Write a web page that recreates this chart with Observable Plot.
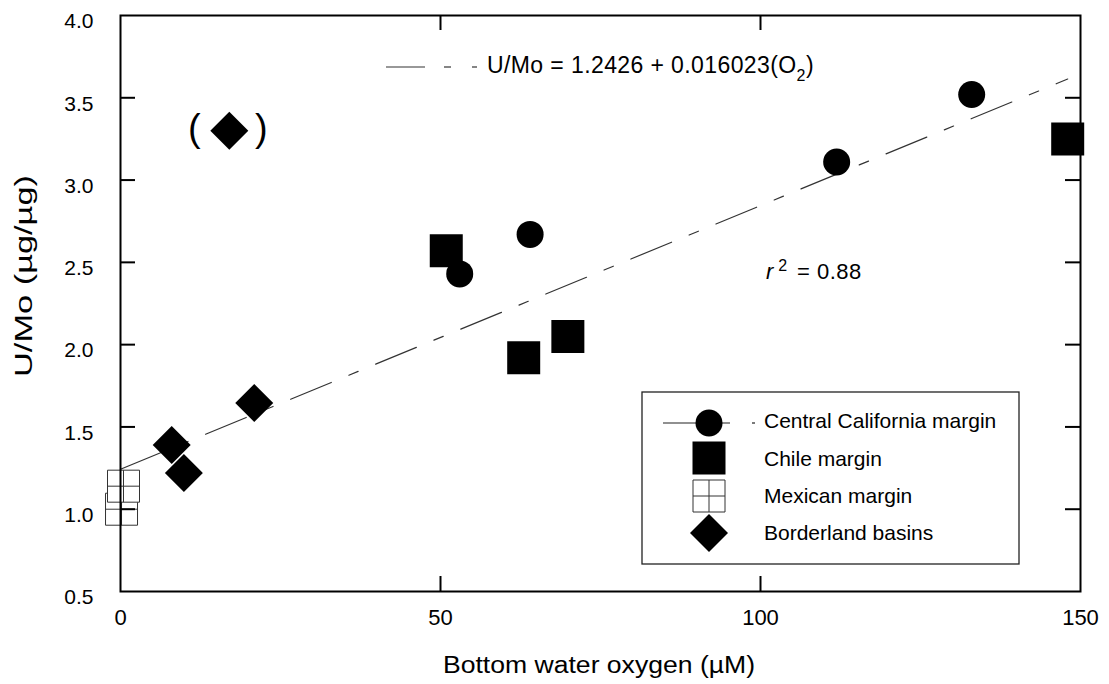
<!DOCTYPE html>
<html><head><meta charset="utf-8">
<script src="https://cdn.jsdelivr.net/npm/d3@7"></script>
<script src="https://cdn.jsdelivr.net/npm/@observablehq/plot@0.6"></script>
<style>body{margin:0;background:#fff} #chart{width:1109px;height:684px}</style>
</head><body><div id="chart"></div>
<script>
// ---- data ----
const xTicks = [0, 50, 100, 150];
const yTicks = [0.5, 1.0, 1.5, 2.0, 2.5, 3.0, 3.5, 4.0];
const californiaO2 = [53.0, 64.0, 111.9, 133.0];
const californiaUMo = [2.43, 2.67, 3.11, 3.52];
const chileO2 = [50.9, 63.0, 69.9, 148.0];
const chileUMo = [2.57, 1.92, 2.05, 3.25];
const mexicanO2 = [0.16, 0.47];
const mexicanUMo = [1.00, 1.14];
const borderlandO2 = [8.0, 9.9, 20.9, 17.0];
const borderlandUMo = [1.39, 1.22, 1.645, 3.30];
const borderlandBracketed = [false, false, false, true];
const fitIntercept = 1.2426;
const fitSlope = 0.016023;
const fitO2Range = [0, 148];
const rSquared = "0.88";
const seriesNames = ["Central California margin", "Chile margin", "Mexican margin", "Borderland basins"];
const xTitle = "Bottom water oxygen (µM)";
const yTitle = "U/Mo (µg/µg)";

const FONT = "'Liberation Sans', Arial, Helvetica, sans-serif";
const toRows = (xs, ys) => xs.map((x, i) => ({o2: x, umo: ys[i], i}));
const california = toRows(californiaO2, californiaUMo);
const chile = toRows(chileO2, chileUMo);
const mexican = toRows(mexicanO2, mexicanUMo);
const borderland = toRows(borderlandO2, borderlandUMo);
const bracketed = borderland.filter(d => borderlandBracketed[d.i]);
const fit = fitO2Range.map(x => ({o2: x, umo: fitIntercept + fitSlope * x}));

const squareCross = {
  draw(ctx, size) {
    const s = Math.sqrt(size) / 2;
    ctx.moveTo(-s, -s); ctx.lineTo(s, -s); ctx.lineTo(s, s); ctx.lineTo(-s, s); ctx.closePath();
    ctx.moveTo(0, -s); ctx.lineTo(0, s);
    ctx.moveTo(-s, 0); ctx.lineTo(s, 0);
  }
};
const rFromSize = s => Math.sqrt(s / Math.PI);
const SQ = 33, MX = 32, DI = 920, CR = 13.5;

const W = 1109, H = 684, ML = 120, MR = 29, MT = 15, MB = 93;
const innerW = W - ML - MR, innerH = H - MT - MB;
const TL = 15;

const chart = Plot.plot({
  width: W, height: H,
  marginLeft: ML, marginRight: MR, marginTop: MT, marginBottom: MB,
  style: {fontFamily: FONT, fontSize: "21px", color: "#000", background: "#fff"},
  x: {domain: [0, 150], label: null},
  y: {domain: [0.5, 4.0], label: null},
  marks: [
    Plot.line(fit, {x: "o2", y: "umo", stroke: "#333", strokeWidth: 1.2, strokeDasharray: "44,19,10,19"}),
    Plot.dot(california, {x: "o2", y: "umo", r: CR, fill: "#000", stroke: "none"}),
    Plot.dot(chile, {x: "o2", y: "umo", symbol: "square", r: rFromSize(SQ * SQ), fill: "#000", stroke: "none"}),
    Plot.dot(mexican, {x: "o2", y: "umo", symbol: squareCross, r: rFromSize(MX * MX), fill: "#fff", stroke: "#333", strokeWidth: 1}),
    Plot.dot(borderland, {x: "o2", y: "umo", symbol: "diamond2", r: rFromSize(DI), fill: "#000", stroke: "none"}),
    Plot.text(bracketed, {x: "o2", y: "umo", text: () => "(", dx: -35, dy: -2, fontSize: 38}),
    Plot.text(bracketed, {x: "o2", y: "umo", text: () => ")", dx: 32, dy: -2, fontSize: 38}),
    Plot.frame({stroke: "#000", strokeWidth: 2}),
    Plot.tickX(xTicks.slice(1, -1), {x: d => d, insetTop: innerH - TL, strokeWidth: 2}),
    Plot.tickX(xTicks.slice(1, -1), {x: d => d, insetBottom: innerH - TL, strokeWidth: 2}),
    Plot.tickY(yTicks.slice(1, -1), {y: d => d, insetRight: innerW - TL, strokeWidth: 2}),
    Plot.tickY(yTicks.slice(1, -1), {y: d => d, insetLeft: innerW - TL, strokeWidth: 2}),
    Plot.axisX({ticks: xTicks, tickSize: 0, tickPadding: 18, fontSize: 22, tickFormat: d => String(d), label: null}),
    Plot.axisY({ticks: yTicks, tickSize: 0, tickPadding: 27, fontSize: 21, dy: 6, tickFormat: d3.format(".1f"), label: null})
  ]
});
document.getElementById("chart").append(chart);

// ---- annotations: titles, equation, r², legend ----
const svg = d3.select(chart);
const ann = svg.append("g").attr("font-family", FONT).attr("fill", "#000").attr("text-anchor", "start");

ann.append("text").attr("x", 599).attr("y", 673).attr("text-anchor", "middle")
  .attr("font-size", 23).attr("textLength", 312).attr("lengthAdjust", "spacingAndGlyphs").text(xTitle);
ann.append("text").attr("transform", "translate(32,276) rotate(-90)").attr("text-anchor", "middle")
  .attr("font-size", 23).attr("textLength", 202).attr("lengthAdjust", "spacingAndGlyphs").text(yTitle);

// equation key
const eqG = ann.append("g").attr("stroke", "#333").attr("stroke-width", 1.2);
[[386, 425], [444, 451], [472, 477]].forEach(([a, b]) =>
  eqG.append("line").attr("x1", a).attr("x2", b).attr("y1", 67).attr("y2", 67));
const eq = ann.append("text").attr("x", 487).attr("y", 73).attr("font-size", 23).style("letter-spacing", "0.4px");
eq.append("tspan").text(`U/Mo = ${fitIntercept} + ${fitSlope}(O`);
eq.append("tspan").attr("font-size", 16).attr("dy", 8).text("2");
eq.append("tspan").attr("dy", -8).text(")");

// r²
const r2 = ann.append("text").attr("x", 766).attr("y", 279).attr("font-size", 22);
r2.append("tspan").attr("font-style", "italic").text("r");
r2.append("tspan").attr("font-size", 16).attr("dx", 5).attr("dy", -8).text("2");
r2.append("tspan").attr("x", 797).attr("dy", 8).style("letter-spacing", "0.5px").text(`= ${rSquared}`);

// legend
const lg = ann.append("g");
lg.append("rect").attr("x", 642).attr("y", 392).attr("width", 377).attr("height", 172)
  .attr("fill", "#fff").attr("stroke", "#222").attr("stroke-width", 1.3);
const symX = 709, rowSym = [423, 458, 496, 533], rowText = [428, 466, 503, 540];
lg.append("line").attr("x1", 663).attr("x2", 730).attr("y1", rowSym[0]).attr("y2", rowSym[0]).attr("stroke", "#222").attr("stroke-width", 1.2);
lg.append("line").attr("x1", 752).attr("x2", 755).attr("y1", rowSym[0]).attr("y2", rowSym[0]).attr("stroke", "#222").attr("stroke-width", 1.2);
lg.append("circle").attr("cx", symX).attr("cy", rowSym[0]).attr("r", CR).attr("fill", "#000");
lg.append("path").attr("transform", `translate(${symX},${rowSym[1]})`).attr("d", d3.symbol(d3.symbolSquare, SQ * SQ)()).attr("fill", "#000");
lg.append("path").attr("transform", `translate(${symX},${rowSym[2]})`).attr("d", d3.symbol(squareCross, MX * MX)()).attr("fill", "#fff").attr("stroke", "#333").attr("stroke-width", 1);
lg.append("path").attr("transform", `translate(${symX},${rowSym[3]})`).attr("d", d3.symbol(d3.symbolDiamond2, DI)()).attr("fill", "#000");
seriesNames.forEach((name, k) =>
  lg.append("text").attr("x", 764).attr("y", rowText[k]).attr("font-size", 21).text(name));
</script>
</body></html>
